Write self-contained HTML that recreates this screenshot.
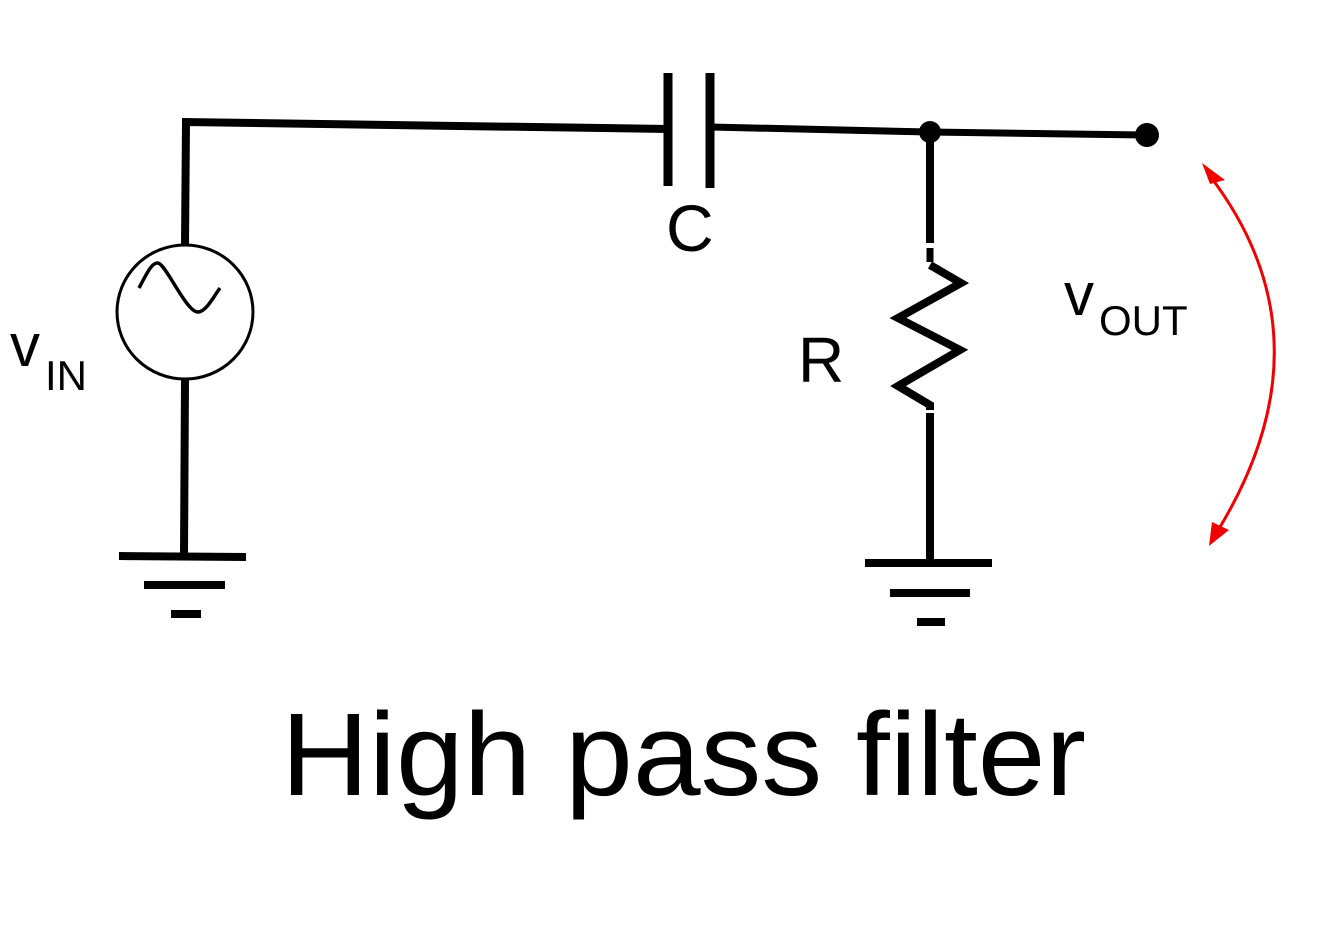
<!DOCTYPE html>
<html><head><meta charset="utf-8"><style>html,body{margin:0;padding:0;background:#fff}svg{display:block}</style></head>
<body>
<svg width="1334" height="936" viewBox="0 0 1334 936" xmlns="http://www.w3.org/2000/svg">
<g stroke="#000" fill="none" stroke-linecap="butt">
<polyline points="185,245 186,122 668,129" stroke-width="8"/>
<line x1="668" y1="73" x2="668" y2="186" stroke-width="9"/>
<line x1="710" y1="73" x2="710" y2="188" stroke-width="9"/>
<polyline points="710,127 930,132 1147,135" stroke-width="7"/>
<ellipse cx="185" cy="312" rx="68" ry="67" stroke-width="3"/>
<path d="M139,288 C147,273 152,262 158,263 C166,264 186,312 198,312 C206,312 214,296 220,288" stroke-width="3.5"/>
<line x1="185" y1="380" x2="184" y2="556" stroke-width="8"/>
<line x1="119" y1="556" x2="246" y2="557" stroke-width="8"/>
<line x1="144" y1="585" x2="225" y2="585" stroke-width="8"/>
<line x1="171" y1="614" x2="201" y2="614" stroke-width="8"/>
<line x1="930" y1="132" x2="930" y2="243" stroke-width="8"/>
<line x1="930" y1="248" x2="930" y2="262" stroke-width="7"/>
<polyline points="930,265 961,283 898,318 960,350 898,386 930,405 930,410" stroke-width="8" stroke-linejoin="miter"/>
<line x1="930" y1="413" x2="930" y2="563" stroke-width="8"/>
<line x1="865" y1="563" x2="992" y2="563" stroke-width="8"/>
<line x1="890" y1="593" x2="970" y2="593" stroke-width="8"/>
<line x1="917" y1="622" x2="945" y2="622" stroke-width="8"/>
</g>
<circle cx="930" cy="132" r="11" fill="#000"/>
<circle cx="1147" cy="135" r="12" fill="#000"/>
<path d="M1210,176 Q1335,340 1217,532" stroke="#e00" stroke-width="3" fill="none"/>
<polygon points="1202,163 1225,180 1210,184" fill="#e00"/>
<polygon points="1209,546 1212,522 1229,530" fill="#e00"/>
<g font-family="'Liberation Sans', sans-serif" fill="#000">
<text x="666" y="251" font-size="66">C</text>
<text x="798" y="382" font-size="64">R</text>
<text x="10" y="366" font-size="60">v</text>
<text x="45" y="390" font-size="42">IN</text>
<text x="1064" y="315" font-size="60">v</text>
<text x="1099" y="335" font-size="42">OUT</text>
<text x="281" y="795" font-size="118" textLength="805" lengthAdjust="spacingAndGlyphs">High pass filter</text>
</g>
</svg>
</body></html>
